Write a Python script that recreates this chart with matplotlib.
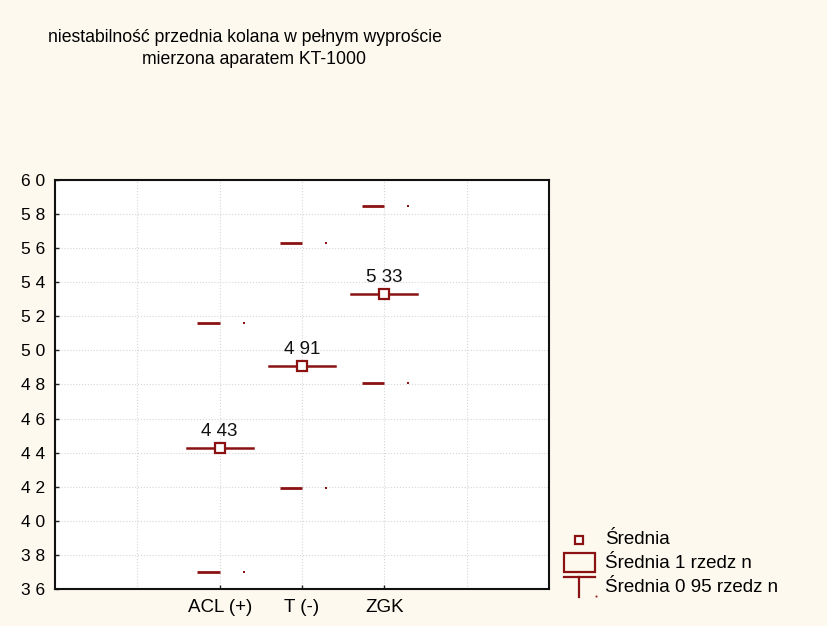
import matplotlib
matplotlib.use("Agg")
import matplotlib.pyplot as plt
from matplotlib.patches import Rectangle
from matplotlib.lines import Line2D
import numpy as np

plt.rcParams['font.family'] = ['Liberation Sans', 'DejaVu Sans']

# group statistics
categories = ["ACL (+)", "T (-)", "ZGK"]
means = [4.43, 4.91, 5.33]
upper_95 = [5.16, 5.63, 5.85]
lower_95 = [3.70, 4.19, 4.81]
y_ticks = [3.6, 3.8, 4.0, 4.2, 4.4, 4.6, 4.8, 5.0, 5.2, 5.4, 5.6, 5.8, 6.0]

bg = '#fdf9ee'
red = '#8b1212'

fig = plt.figure(figsize=(8.27, 6.26), dpi=100, facecolor=bg)
ax = fig.add_axes([0.0665, 0.0591, 0.5973, 0.6534])
ax.set_facecolor('white')

xpos = np.arange(len(categories)) + 2

for x, m, hi, lo in zip(xpos, means, upper_95, lower_95):
    # mean with standard-error bar
    ax.plot([x - 0.4, x + 0.4], [m, m], color=red, lw=1.8, zorder=3)
    ax.plot([x], [m], marker='s', ms=6.5, mfc='white', mec=red, mew=1.6, zorder=4)
    ax.text(x, m + 0.045, f"{m:.2f}".replace('.', ' '), ha='center', va='bottom',
            fontsize=13.5, color='#111111', zorder=5)
    # 0.95 confidence limits
    for v in (hi, lo):
        ax.plot([x - 0.27, x], [v, v], color=red, lw=2.0, zorder=3,
                solid_capstyle='butt')
        ax.plot([x + 0.29], [v], marker='s', ms=1.5, color=red, mew=0, zorder=3)

ax.set_xlim(0, 6)
ax.set_ylim(3.6, 6.0)
ax.set_xticks(xpos)
ax.set_xticklabels(categories, fontsize=13.5)
ax.set_yticks(y_ticks)
ax.set_yticklabels([f"{t:.1f}".replace('.', ' ') for t in y_ticks], fontsize=12.5)
ax.set_xticks([1, 2, 3, 4, 5], minor=True)
ax.grid(True, which='both', axis='x', color='#d6d6d6', lw=0.8, ls=':')
ax.grid(True, which='major', axis='y', color='#d6d6d6', lw=0.8, ls=':')
ax.tick_params(axis='both', which='major', direction='in', length=3, width=1,
               color='#222222')
ax.tick_params(axis='y', pad=7)
ax.tick_params(axis='x', pad=7)
ax.tick_params(axis='x', which='minor', length=0)
for s in ax.spines.values():
    s.set_linewidth(1.5)
    s.set_color('#111111')

# title
fig.text(245 / 827, 1 - 37 / 626, "niestabilność przednia kolana w pełnym wyproście",
         ha='center', va='center', fontsize=12.7)
fig.text(254 / 827, 1 - 60 / 626, "mierzona aparatem KT-1000",
         ha='center', va='center', fontsize=12.7)

# legend
W, H = 827.0, 626.0
def fx(px):
    return px / W
def fy(py):
    return 1 - py / H

fig.add_artist(Line2D([fx(579)], [fy(540)], marker='s', ms=6, mfc='white',
                      mec=red, mew=1.6, transform=fig.transFigure))
fig.add_artist(Rectangle((fx(564), fy(572)), fx(595) - fx(564), fy(553) - fy(572),
                         fill=False, ec=red, lw=1.6, transform=fig.transFigure))
fig.add_artist(Line2D([fx(564), fx(595)], [fy(577), fy(577)], color=red, lw=1.6,
                      transform=fig.transFigure))
fig.add_artist(Line2D([fx(579), fx(579)], [fy(577), fy(597)], color=red, lw=1.6,
                      transform=fig.transFigure))
fig.add_artist(Line2D([fx(596)], [fy(596)], marker='s', ms=1.3, color=red, mew=0,
                      transform=fig.transFigure))
for py, label in [(540, "Średnia"), (563, "Średnia 1 rzedz n"), (587, "Średnia 0 95 rzedz n")]:
    fig.text(fx(605), fy(py), label, ha='left', va='center', fontsize=13.5)

fig.savefig("out.png", dpi=100, facecolor=bg)
